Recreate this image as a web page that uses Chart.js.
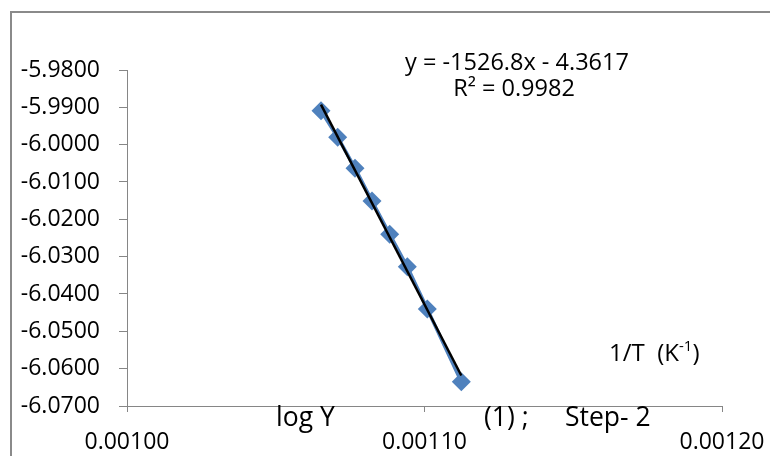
<!DOCTYPE html>
<html><head><meta charset="utf-8">
<script src="https://cdn.jsdelivr.net/npm/chart.js@4.4.1/dist/chart.umd.min.js"></script>
<style>html,body{margin:0;padding:0;background:#fff}#wrap{width:770px;height:456px;position:relative}</style>
</head><body><div id="wrap"><canvas id="c" width="770" height="456"></canvas></div>
<script>
// ---- data ----
const invT = [0.00106521, 0.00107082, 0.00107664, 0.00108235, 0.00108830, 0.00109422, 0.00110094, 0.00111237];
const logY = [-5.9909, -5.9980, -6.0063, -6.0151, -6.0240, -6.0327, -6.0440, -6.0635];
const xTickValues = [0.00100, 0.00110, 0.00120];
const yTickValues = [-5.98, -5.99, -6.00, -6.01, -6.02, -6.03, -6.04, -6.05, -6.06, -6.07];
const equationText = 'y = -1526.8x - 4.3617';
const r2Text = 'R\u00B2 = 0.9982';
const xTitleMain = '1/T  (K';
const xTitleSup = '-1';
const xTitleEnd = ')';
const captionLeft = 'log Y';
const captionMid = '(1) ;';
const captionRight = 'Step- 2';

// least-squares linear trendline over the data range (as the spreadsheet trendline)
function fit(xs, ys) {
  const n = xs.length;
  const mx = xs.reduce((a, b) => a + b, 0) / n;
  const my = ys.reduce((a, b) => a + b, 0) / n;
  let sxy = 0, sxx = 0;
  for (let i = 0; i < n; i++) { sxy += (xs[i] - mx) * (ys[i] - my); sxx += (xs[i] - mx) ** 2; }
  const m = sxy / sxx;
  return { m, b: my - m * mx };
}
const tr = fit(invT, logY);
const xMin = Math.min(...invT), xMax = Math.max(...invT);
const trendPts = [{ x: xMin, y: tr.m * xMin + tr.b }, { x: xMax, y: tr.m * xMax + tr.b }];

const FONT = 'Open Sans';
const AXIS = '#868686';

const overlay = {
  id: 'overlay',
  afterDraw(chart) {
    const ctx = chart.ctx;
    ctx.save();
    // outer frame
    ctx.strokeStyle = '#8a8a8a';
    ctx.lineWidth = 2;
    ctx.strokeRect(11, 12, 820, 520);
    ctx.fillStyle = '#000';
    ctx.textBaseline = 'alphabetic';
    // trendline label
    ctx.font = '23.5px "' + FONT + '"';
    ctx.textAlign = 'center';
    ctx.fillText(equationText, 517, 70);
    ctx.fillText(r2Text, 514, 96);
    // x title with superscript
    ctx.textAlign = 'left';
    ctx.font = '24px "' + FONT + '"';
    let x = 609;
    ctx.fillText(xTitleMain, x, 361);
    x += ctx.measureText(xTitleMain).width;
    ctx.font = '15px "' + FONT + '"';
    ctx.fillText(xTitleSup, x, 351);
    x += ctx.measureText(xTitleSup).width;
    ctx.font = '24px "' + FONT + '"';
    ctx.fillText(xTitleEnd, x, 361);
    // caption texts
    ctx.font = '26.5px "' + FONT + '"';
    ctx.fillText(captionLeft, 276, 426);
    ctx.fillText(captionMid, 484, 426);
    ctx.fillText(captionRight, 565, 426);
    ctx.restore();
  }
};

new Chart(document.getElementById('c'), {
  type: 'scatter',
  data: {
    datasets: [
      {
        label: 'trend',
        data: trendPts,
        showLine: true,
        borderColor: '#000000',
        borderWidth: 2.5,
        pointRadius: 0,
        order: 0
      },
      {
        label: 'log Y',
        data: invT.map((v, i) => ({ x: v, y: logY[i] })),
        showLine: true,
        borderColor: '#4F81BD',
        borderWidth: 3.5,
        backgroundColor: '#4F81BD',
        pointStyle: 'rectRot',
        pointRadius: 9.5,
        pointBorderWidth: 0,
        pointBackgroundColor: '#4F81BD',
        order: 1
      }
    ]
  },
  options: {
    responsive: false,
    animation: false,
    devicePixelRatio: 1,
    layout: { autoPadding: false, padding: { left: 0, top: 70, right: 48, bottom: 0 } },
    plugins: { legend: { display: false }, tooltip: { enabled: false } },
    scales: {
      x: {
        type: 'linear',
        min: 0.0010, max: 0.0012,
        afterFit(s) { s.height = 50; s.paddingLeft = 0; s.paddingRight = 0; },
        afterBuildTicks(s) { s.ticks = xTickValues.map(v => ({ value: v })); },
        grid: { drawOnChartArea: false, drawTicks: true, tickLength: 6, color: AXIS, lineWidth: 1 },
        border: { display: true, color: AXIS, width: 1 },
        ticks: {
          padding: 17, color: '#000', maxRotation: 0, autoSkip: false,
          font: { family: FONT, size: 23 },
          callback: v => Number(v).toFixed(5)
        }
      },
      y: {
        type: 'linear',
        min: -6.07, max: -5.98,
        afterFit(s) { s.width = 127; s.paddingTop = 0; s.paddingBottom = 0; },
        afterBuildTicks(s) { s.ticks = yTickValues.map(v => ({ value: v })); },
        grid: { drawOnChartArea: false, drawTicks: true, tickLength: 8, color: AXIS, lineWidth: 1 },
        border: { display: true, color: AXIS, width: 1 },
        ticks: {
          padding: 19, color: '#000', autoSkip: false,
          font: { family: FONT, size: 23 },
          callback: v => Number(v).toFixed(4)
        }
      }
    }
  },
  plugins: [overlay]
});
</script>
</body></html>
